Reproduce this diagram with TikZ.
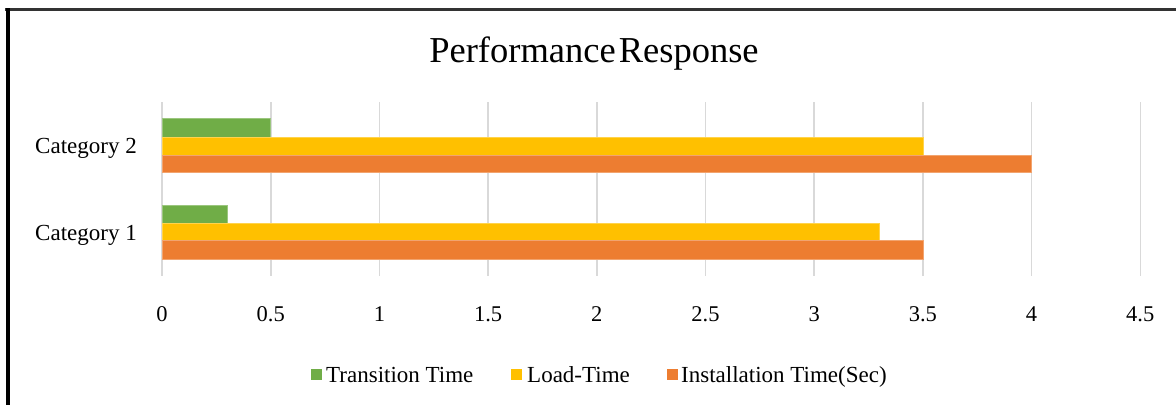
\documentclass[tikz,border=0pt]{standalone}
\usepackage{fontspec}
\setmainfont{Liberation Serif}
\definecolor{transcol}{HTML}{70AD47}
\definecolor{loadcol}{HTML}{FFC000}
\definecolor{instcol}{HTML}{ED7D31}
\definecolor{gridcol}{HTML}{D9D9D9}
\tikzset{
  label text/.style={inner sep=0pt, font=\fontsize{23}{27}\selectfont, text=black},
  tick text/.style={inner sep=0pt, font=\fontsize{22.5}{26}\selectfont, text=black},
  title text/.style={inner sep=0pt, font=\fontsize{36.5}{40}\selectfont, text=black},
  gridline/.style={draw=gridcol, line width=1.6pt},
  barfill/.style={fill=#1, draw=#1!70!white, line width=0.5pt},
  keybox/.style={fill=#1, draw=none},
}
\begin{document}
\begin{tikzpicture}[x=1pt, y=-1pt]
\useasboundingbox (0,0) rectangle (1176,405);
\fill[white] (0,0) rectangle (1176,405);

% frame of the chart area
\draw[line width=2.5pt, black!80] (5,9.5) -- (1176,9.5);
\draw[line width=4pt, black] (7.5,8) -- (7.5,405);

% title
\node[title text, anchor=base] (title) at (594,62) {Performance\hspace{3pt}Response};

% value axis: one unit = 217.4 px, zero at x = 162
\begin{scope}[x=217.4pt, xshift=162pt]
  \foreach \v/\t [count=\k] in {0/0,0.5/0.5,1/1,1.5/1.5,2/2,2.5/2.5,3/3,3.5/3.5,4/4,4.5/4.5} {
    \draw[gridline] (\v,102) -- (\v,276);
    \node[tick text, anchor=base] (tick\k) at (\v,321) {\t};
  }
  % Category 2
  \path[barfill=transcol] (0,118)   rectangle (0.5,137.2);
  \path[barfill=loadcol]  (0,137.2) rectangle (3.5,154.8);
  \path[barfill=instcol]  (0,154.8) rectangle (4,172.3);
  % Category 1
  \path[barfill=transcol] (0,205.7) rectangle (0.3,223.3);
  \path[barfill=loadcol]  (0,223.3) rectangle (3.3,240.7);
  \path[barfill=instcol]  (0,240.7) rectangle (3.5,259.5);
\end{scope}

% category labels
\node[label text, anchor=base east] (cat2) at (137,153) {Category 2};
\node[label text, anchor=base east] (cat1) at (137,240) {Category 1};

% legend
\fill[keybox=transcol] (311,369) rectangle (322,380);
\node[label text, anchor=base west] (keytrans) at (326,382) {Transition Time};
\fill[keybox=loadcol] (511,369) rectangle (522,380);
\node[label text, anchor=base west] (keyload) at (527,382) {Load-Time};
\fill[keybox=instcol] (667,369) rectangle (678,380);
\node[label text, anchor=base west] (keyinst) at (681,382) {Installation Time(Sec)};
\end{tikzpicture}
\end{document}
